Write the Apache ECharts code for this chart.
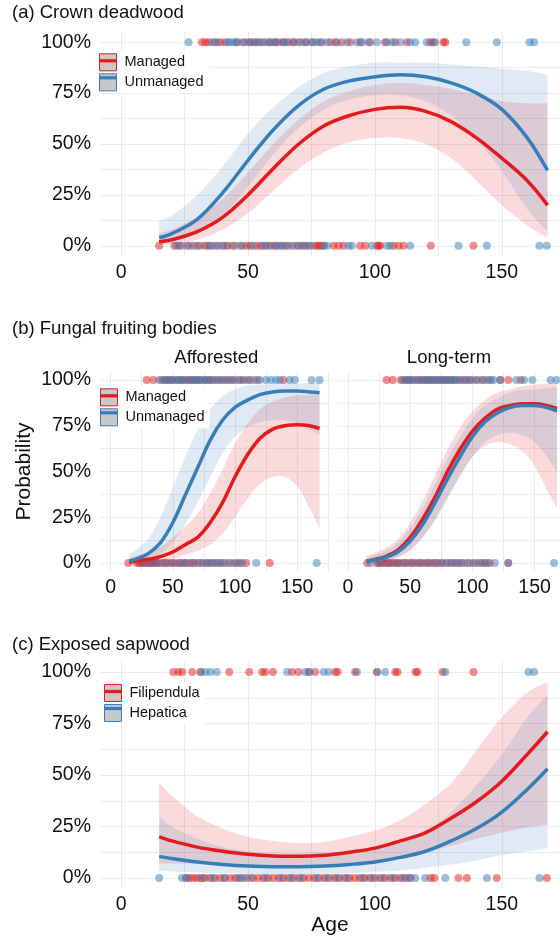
<!DOCTYPE html>
<html><head><meta charset="utf-8">
<script src="https://cdn.jsdelivr.net/npm/echarts@6/dist/echarts.min.js"></script>
<style>html,body{margin:0;padding:0;background:#fff}#c{width:560px;height:940px}</style>
</head><body><div id="c"></div>
<script>
// ---------- data ----------
const ages = [15,20,30,40,50,60,70,80,90,100,110,120,130,140,150,160,168];

// (a) Crown deadwood
const a_fit_m = [0.02,0.03,0.07,0.14,0.25,0.38,0.50,0.59,0.64,0.67,0.68,0.66,0.61,0.53,0.43,0.32,0.20];
const a_lo_m  = [0.005,0.01,0.03,0.08,0.16,0.27,0.38,0.46,0.51,0.53,0.53,0.50,0.43,0.32,0.20,0.10,0.04];
const a_hi_m  = [0.06,0.08,0.14,0.23,0.36,0.50,0.62,0.71,0.76,0.79,0.80,0.79,0.77,0.74,0.71,0.70,0.70];
const a_fit_u = [0.04,0.06,0.13,0.26,0.42,0.57,0.69,0.77,0.81,0.83,0.84,0.83,0.80,0.75,0.67,0.53,0.37];
const a_lo_u  = [0.01,0.02,0.06,0.15,0.29,0.45,0.58,0.67,0.72,0.74,0.74,0.71,0.64,0.52,0.37,0.18,0.07];
const a_hi_u  = [0.12,0.15,0.25,0.39,0.55,0.68,0.78,0.85,0.88,0.90,0.90,0.90,0.89,0.88,0.87,0.86,0.84];
const a_top_m = [31.8,33.2,34.5,37,39.1,41,45.5,48,50.5,52.2,54,56.1,58.5,60.5,62,63.9,66,67.9,69.9,72.6,75,78.5,82.4,84.4,86.9,90.3,94.2,98.1,104,108,112.6,121.8,123.1,127,127.7];
const a_top_u = [26.6,36,38,42,43,44.4,46,48.9,51,53,55,57.5,59,61,63.9,65,68,71,73,75.8,77,79.1,81.1,85,89,92.9,95,97.5,100.8,104.7,106.7,110,113.9,115.9,120.4,123.7,136,148,160.9,162.7];
const a_bot_m = [15,21,23,26,28.5,31,33,35,37.5,40,42,44,47,49.5,51,53.5,55,57,59,60.5,63,65,67.5,70,72,74,76.5,77.5,78.4,79.5,83.7,85.7,87.6,94.2,96.2,100.8,101.5,102.1,107.3,109.3,111.3,122,138.8];
const a_bot_u = [22,24,27,30,34,36,38.5,41,45,48,52,56,58,61,62,64,66,69,71,73,75,80,81.1,89.6,90.9,98.8,104.7,106,113.9,132.9,144.1,164.8,167.7];

// (b) Fungal fruiting bodies - Afforested
const bA_fit_m = [0.005,0.01,0.02,0.035,0.06,0.10,0.14,0.22,0.33,0.47,0.59,0.68,0.73,0.75,0.755,0.75,0.735];
const bA_lo_m  = [0.001,0.002,0.006,0.012,0.025,0.045,0.065,0.10,0.16,0.25,0.35,0.43,0.47,0.47,0.42,0.30,0.19];
const bA_hi_m  = [0.03,0.04,0.06,0.09,0.14,0.20,0.27,0.38,0.51,0.65,0.76,0.84,0.88,0.905,0.915,0.92,0.92];
const bA_fit_u = [0.01,0.02,0.05,0.11,0.22,0.37,0.52,0.67,0.78,0.85,0.89,0.92,0.935,0.94,0.94,0.935,0.93];
const bA_lo_u  = [0.002,0.005,0.02,0.05,0.11,0.21,0.33,0.47,0.60,0.69,0.74,0.77,0.78,0.78,0.76,0.73,0.70];
const bA_hi_u  = [0.05,0.07,0.13,0.25,0.41,0.58,0.73,0.84,0.91,0.95,0.97,0.975,0.98,0.98,0.98,0.985,0.985];
const bA_top_m = [29,34.3,41,44,47,50,54,57,60,63,66,69,72,76,79,82,86,90,94,98,103,107,112,118,139];
const bA_top_u = [39,43,46,49,52,55,58,62,65,68,71,74,77,80,84,88,92,96,100,105,110,115,120,125,129,133,136,144,148,161.6,168];
const bA_bot_m = [14.2,21,23,25,27,29,31,33,35,37,40,43,46,49,52,55,58,61,64,67,70,74,78,82,86,90,95,100,104,109,128];
const bA_bot_u = [26,32,38,44,50,56,60,66,72,77,80,84,88,92,97,102,106,117,165.7];

// (b) Fungal fruiting bodies - Long-term
const bL_fit_m = [0.01,0.017,0.035,0.07,0.14,0.24,0.36,0.50,0.62,0.72,0.79,0.84,0.86,0.87,0.87,0.86,0.845];
const bL_lo_m  = [0.002,0.004,0.012,0.03,0.07,0.14,0.24,0.36,0.48,0.58,0.64,0.66,0.65,0.61,0.53,0.40,0.30];
const bL_hi_m  = [0.04,0.05,0.08,0.13,0.22,0.34,0.48,0.62,0.74,0.83,0.89,0.93,0.95,0.965,0.975,0.98,0.985];
const bL_fit_u = [0.01,0.015,0.03,0.06,0.12,0.21,0.33,0.46,0.58,0.69,0.77,0.82,0.85,0.86,0.86,0.85,0.83];
const bL_lo_u  = [0.003,0.005,0.014,0.033,0.07,0.14,0.23,0.35,0.47,0.58,0.66,0.70,0.71,0.70,0.66,0.58,0.49];
const bL_hi_u  = [0.03,0.04,0.065,0.11,0.19,0.30,0.43,0.57,0.69,0.79,0.86,0.90,0.93,0.945,0.95,0.955,0.96];
const bL_top_m = [31,36,42.5,46,49,52,56,59,62,65,68,71,74,77,80,83,86,90,94,98,103,108,113,122.5,128.9,138.9];
const bL_top_u = [44,47.5,50.5,54,57.5,61,64,67,70,73,76,79,82,85,88,92,96,100,105,110,115,117,122.5,135.1,141.5,148.2,162.9,167.7];
const bL_bot_m = [15.5,23,25,27.5,30,32,34.5,37,39.5,42,45,48,51,54,57,60,63,66,69,72,75,79,83,87,91,96,101,106,110,114,128.8];
const bL_bot_u = [18,26,33,40,46,52,58,64,70,76,81,85,89,93,98,103,108,112,118,128.8,165.6];

// (c) Exposed sapwood
const c_fit_f = [0.20,0.18,0.15,0.13,0.115,0.107,0.105,0.11,0.125,0.145,0.18,0.22,0.29,0.37,0.47,0.60,0.71];
const c_lo_f  = [0.07,0.07,0.07,0.066,0.063,0.062,0.063,0.066,0.072,0.082,0.10,0.125,0.155,0.19,0.22,0.245,0.26];
const c_hi_f  = [0.46,0.40,0.30,0.24,0.20,0.18,0.17,0.175,0.20,0.23,0.28,0.36,0.46,0.62,0.78,0.90,0.95];
const c_fit_h = [0.105,0.095,0.078,0.066,0.058,0.055,0.055,0.058,0.066,0.078,0.10,0.13,0.18,0.24,0.32,0.43,0.53];
const c_lo_h  = [0.035,0.032,0.027,0.023,0.021,0.02,0.02,0.021,0.024,0.03,0.037,0.05,0.065,0.085,0.11,0.13,0.145];
const c_hi_h  = [0.30,0.25,0.19,0.15,0.13,0.12,0.12,0.125,0.13,0.15,0.18,0.23,0.32,0.45,0.60,0.78,0.89];
const c_top_f = [20.6,22.6,24.1,28,31.2,42.6,50.5,55.6,56.8,59.8,67.3,69.9,73.9,76.5,84.4,85.3,92.2,100.8,108,108.9,116,116.8,126.7,138.8];
const c_top_h = [31.5,33.2,35.2,37.7,65.4,72.6,74.3,79.8,81.8,92.9,100.8,104,127.7,160.5,162.7];
const c_bot_f = [25.5,27,28.5,30,31.5,33,35,37,39,41,43,45,47,49.5,52,54,56,58,60,62,64,66,68,70,72,74,76,78,80,82,84,86,88,90,92,94,96,98,100,102,104,106,108,110,112,114,121.9,123.4,132.9,136.2,148,167.7];
const c_bot_h = [15,24,26,32,36,40.5,46,48,51,57,63,67,71,77,81,85,89,95,99,103,107,111,113.5,115.9,119.8,127.7,144.1,164.8];

// ticks
const xTickLabels = [0,50,100,150];
const xGridValues = [0,25,50,75,100,125,150,175];
const yTickLabels = [0,0.25,0.5,0.75,1];
const yGridValues = [0,0.125,0.25,0.375,0.5,0.625,0.75,0.875,1];

// ---------- chart ----------
const RED = '#E41A1C', BLUE = '#377EB8';
const FONT = "'Liberation Sans', Arial, Helvetica, sans-serif";
const TXT = '#111';
const SMOOTH = 0.35;

const grids = [
  {left:100, top:32, width:460, height:224},
  {left:100, top:370.85, width:232.6, height:201.3},
  {left:337.4, top:370.85, width:222.6, height:201.3},
  {left:100, top:661.7, width:460, height:226.6}
].map(g => Object.assign({containLabel:false, outerBoundsMode:'none', show:false}, g));

const xRanges = [[-8.3,172.9],[-8.5,178.5],[-8.5,170.4],[-8.3,172.9]];
const xMargins = [7,5,5,6];
const xAxes = xRanges.map((r,i) => ({
  type:'value', gridIndex:i, min:r[0], max:r[1],
  axisLine:{show:false},
  axisTick:{show:false, customValues:xGridValues},
  axisLabel:{customValues:xTickLabels, color:TXT, fontSize:19.5, fontFamily:FONT, margin:xMargins[i]},
  splitLine:{show:true, lineStyle:{color:'#ebebeb', width:1}},
  name: i===3 ? 'Age' : '', nameLocation:'middle', nameGap:25,
  nameTextStyle:{color:TXT, fontSize:21, fontFamily:FONT}
}));
const yAxes = [0,1,2,3].map(i => ({
  type:'value', gridIndex:i, min:-0.05, max:1.05,
  axisLine:{show:false},
  axisTick:{show:false, customValues:yGridValues},
  axisLabel:{show:i!==2, customValues:yTickLabels, color:TXT, fontSize:19.5, fontFamily:FONT, margin:9,
             formatter: v => Math.round(v*100) + '%'},
  splitLine:{show:true, lineStyle:{color:'#ebebeb', width:1}},
  name: i===1 ? 'Probability' : '', nameLocation:'middle', nameGap:65,
  nameTextStyle:{color:TXT, fontSize:21, fontFamily:FONT}
}));

// same bezier smoothing rule as ECharts' smoothed line, applied to a pixel polyline
function smoothPath(pts, startCmd) {
  let d = '';
  let cpx0, cpy0, prevX, prevY;
  for (let k = 0; k < pts.length; k++) {
    const x = pts[k][0], y = pts[k][1];
    if (k === 0) {
      d += startCmd + x + ',' + y;
      cpx0 = x; cpy0 = y;
    } else {
      let nx, ny, vx = 0, vy = 0, ratio = 0.5;
      if (k === pts.length - 1) { nx = x; ny = y; }
      else {
        const nX = pts[k+1][0], nY = pts[k+1][1];
        vx = nX - prevX; vy = nY - prevY;
        const l0 = Math.hypot(x - prevX, y - prevY), l1 = Math.hypot(nX - x, nY - y);
        ratio = l1 / (l0 + l1);
        nx = x - vx * SMOOTH * (1 - ratio);
        ny = y - vy * SMOOTH * (1 - ratio);
      }
      d += 'C' + cpx0 + ',' + cpy0 + ',' + nx + ',' + ny + ',' + x + ',' + y;
      cpx0 = x + vx * SMOOTH * ratio;
      cpy0 = y + vy * SMOOTH * ratio;
    }
    prevX = x; prevY = y;
  }
  return d;
}

const series = [];
function addGroup(gi, name, color, top, bot, fit, lo, hi) {
  series.push({
    type:'scatter', name, xAxisIndex:gi, yAxisIndex:gi, z:2, silent:true,
    symbolSize:8, itemStyle:{color, opacity:0.5},
    data: top.map(a => [a,1]).concat(bot.map(a => [a,0]))
  });
  series.push({
    type:'custom', name, xAxisIndex:gi, yAxisIndex:gi, z:3, silent:true,
    itemStyle:{color},
    encode:{x:0, y:[1,2]},
    data: ages.map((a,i) => [a, lo[i], hi[i]]),
    renderItem: (params, api) => {
      if (params.dataIndex !== 0) return null;
      const upper = ages.map((a,i) => api.coord([a, hi[i]]));
      const lower = ages.map((a,i) => api.coord([a, lo[i]])).reverse();
      const d = smoothPath(upper, 'M') + smoothPath(lower, 'L') + 'Z';
      return {type:'path', shape:{pathData:d}, style:{fill:color, opacity:0.16, stroke:null}};
    }
  });
  series.push({
    type:'line', name, xAxisIndex:gi, yAxisIndex:gi, z:4, silent:true,
    smooth:SMOOTH, symbol:'none', lineStyle:{color, width:3.5}, itemStyle:{color},
    data: ages.map((a,i) => [a, fit[i]])
  });
}
addGroup(0,'Managed',RED,a_top_m,a_bot_m,a_fit_m,a_lo_m,a_hi_m);
addGroup(0,'Unmanaged',BLUE,a_top_u,a_bot_u,a_fit_u,a_lo_u,a_hi_u);
addGroup(1,'Managed',RED,bA_top_m,bA_bot_m,bA_fit_m,bA_lo_m,bA_hi_m);
addGroup(1,'Unmanaged',BLUE,bA_top_u,bA_bot_u,bA_fit_u,bA_lo_u,bA_hi_u);
addGroup(2,'Managed',RED,bL_top_m,bL_bot_m,bL_fit_m,bL_lo_m,bL_hi_m);
addGroup(2,'Unmanaged',BLUE,bL_top_u,bL_bot_u,bL_fit_u,bL_lo_u,bL_hi_u);
addGroup(3,'Filipendula',RED,c_top_f,c_bot_f,c_fit_f,c_lo_f,c_hi_f);
addGroup(3,'Hepatica',BLUE,c_top_h,c_bot_h,c_fit_h,c_lo_h,c_hi_h);

const legends = [];
function addLegend(names, colors, left, top) {
  const common = {orient:'vertical', left, top, itemWidth:17, itemHeight:17, itemGap:2,
    selectedMode:false, padding:[2,5,2,2],
    textStyle:{fontSize:14.5, fontFamily:FONT, color:TXT, padding:[0,0,0,3]}};
  legends.push(Object.assign({}, common, {
    backgroundColor:'#fff', z:5,
    data: names.map((n,i) => ({name:n, icon:'rect',
      itemStyle:{color:'#c8c8c8', borderColor:colors[i], borderWidth:1, opacity:1}}))
  }));
  legends.push(Object.assign({}, common, {
    z:6,
    textStyle:Object.assign({}, common.textStyle, {color:'rgba(0,0,0,0)'}),
    data: names.map((n,i) => ({name:n, icon:'path://M0,0L17,0L17,3.2L0,3.2Z',
      itemStyle:{color:colors[i], borderWidth:0, opacity:1}}))
  }));
}
addLegend(['Managed','Unmanaged'],[RED,BLUE],97,51.3);
addLegend(['Managed','Unmanaged'],[RED,BLUE],98,386.3);
addLegend(['Filipendula','Hepatica'],[RED,BLUE],102,682);

const tstyle = {color:TXT, fontSize:18.5, fontWeight:'normal', fontFamily:FONT};
const titles = [
  {text:'(a) Crown deadwood', left:12, top:3.5},
  {text:'(b) Fungal fruiting bodies', left:12, top:319.5},
  {text:'(c) Exposed sapwood', left:12, top:635.2},
  {text:'Afforested', left:216.3, top:348.5, textAlign:'center'},
  {text:'Long-term', left:449, top:348.5, textAlign:'center'}
].map(t => Object.assign({padding:0, textStyle:tstyle}, t));

const chart = echarts.init(document.getElementById('c'), null, {renderer:'canvas'});
chart.setOption({
  animation:false,
  backgroundColor:'#fff',
  title: titles,
  legend: legends,
  grid: grids,
  xAxis: xAxes,
  yAxis: yAxes,
  series
});
</script>
</body></html>
